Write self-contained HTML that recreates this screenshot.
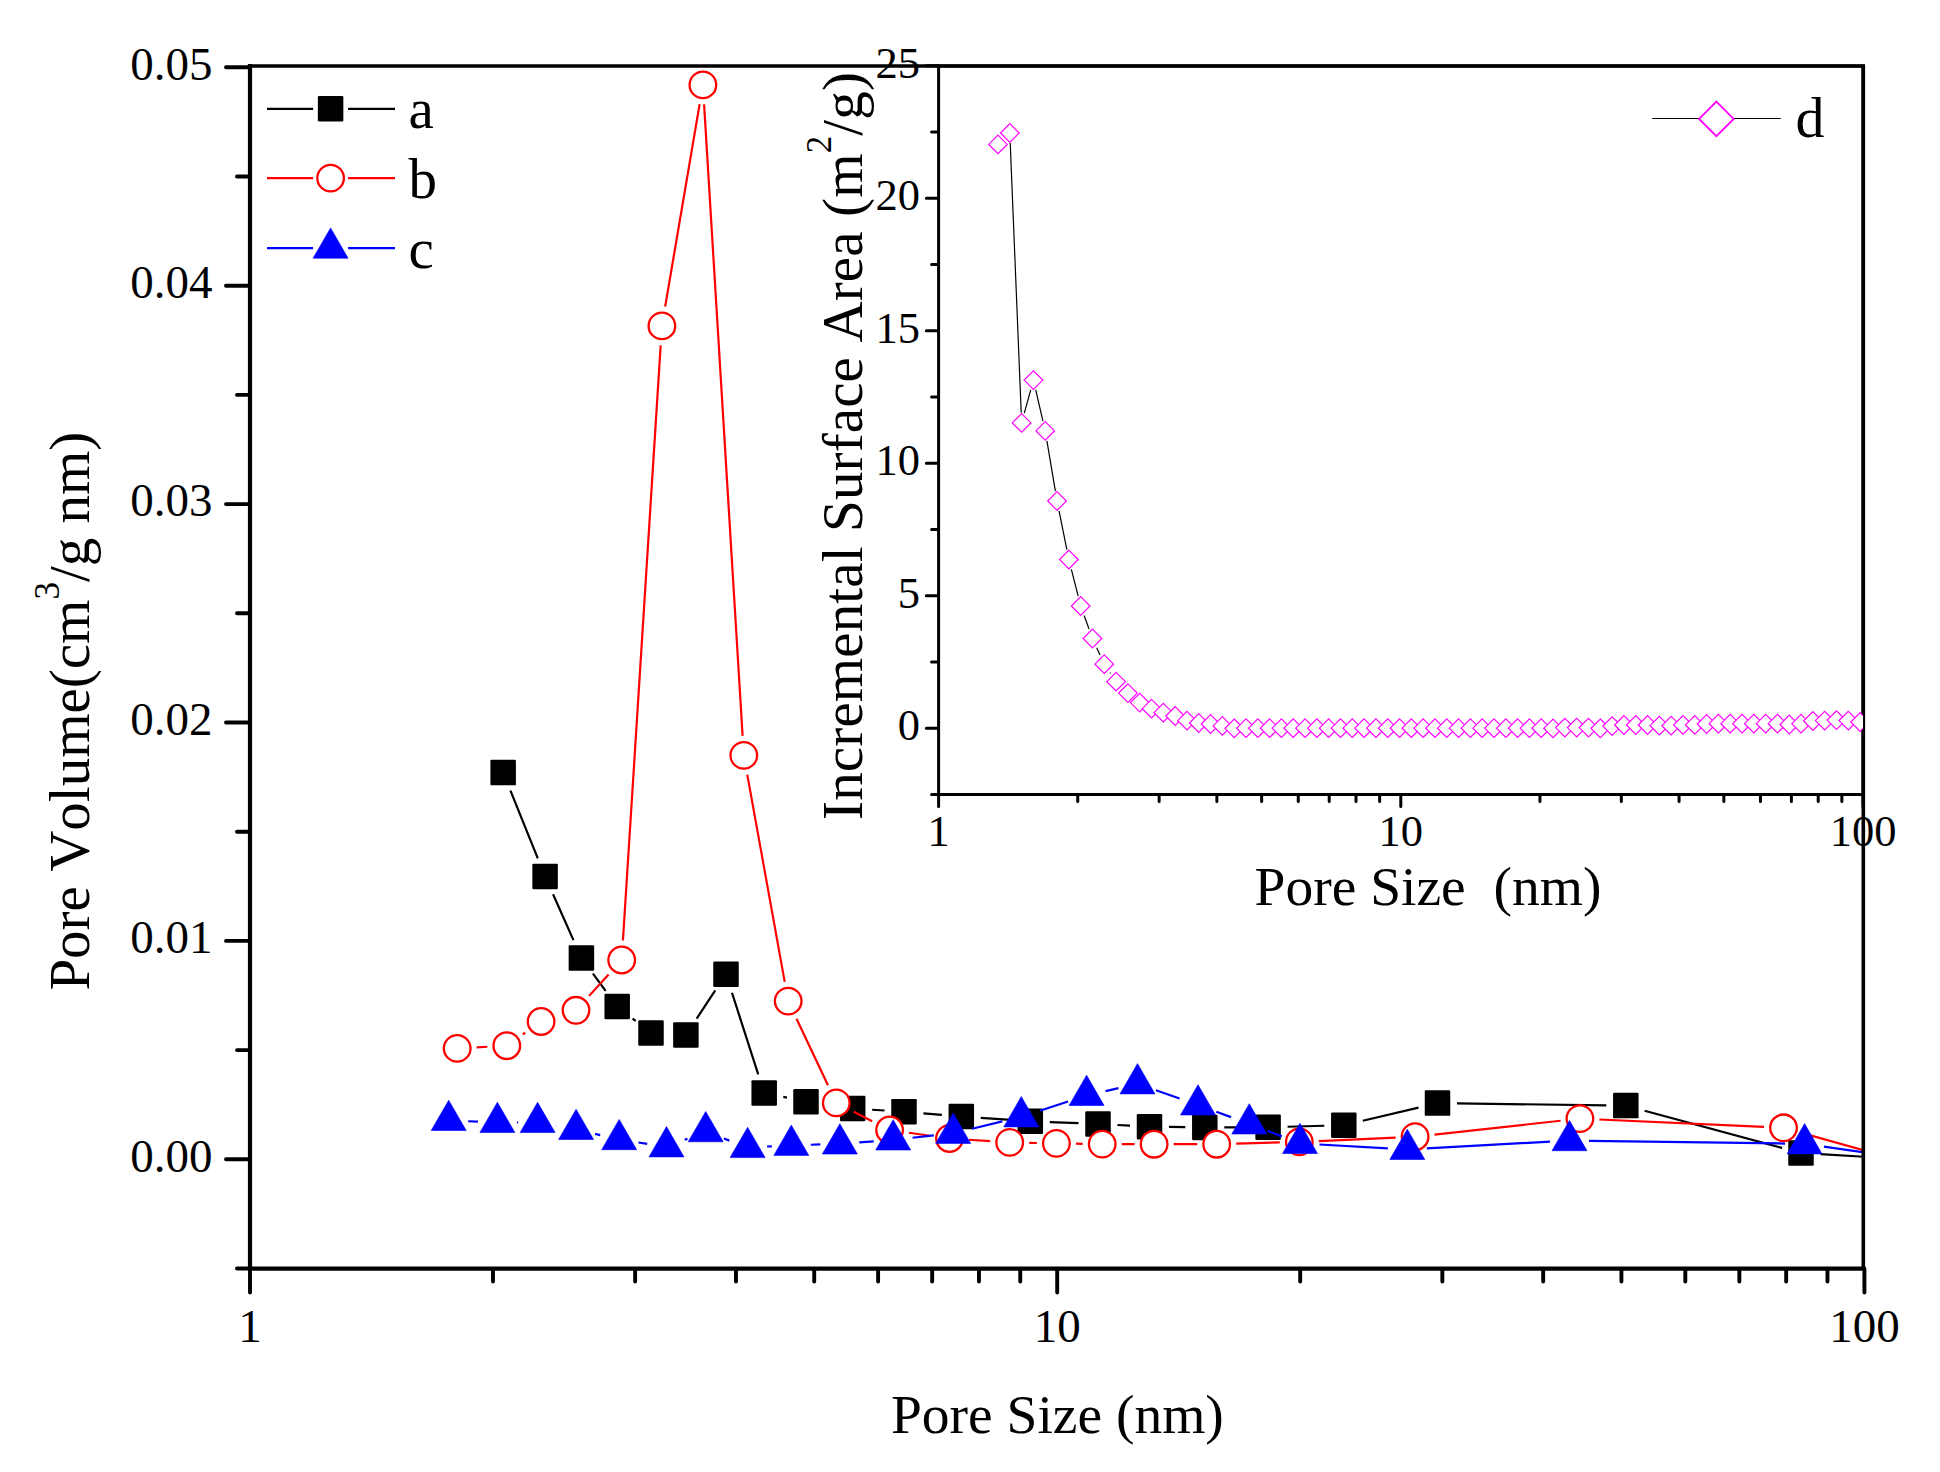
<!DOCTYPE html><html><head><meta charset="utf-8"><title>Pore size distribution</title>
<style>html,body{margin:0;padding:0;background:#fff;}svg{display:block;}text{font-family:"Liberation Serif", "Times New Roman", serif;fill:#000;font-kerning:none;}</style></head><body>
<svg width="1940" height="1472" viewBox="0 0 1940 1472">
<rect width="1940" height="1472" fill="#fff"/>
<defs><clipPath id="mclip"><rect x="250.00" y="66.00" width="1613.30" height="1202.60"/></clipPath>
<clipPath id="iclip"><rect x="938.60" y="66.00" width="924.40" height="728.50"/></clipPath></defs>
<g clip-path="url(#mclip)">
<path d="M510.45 790.68L537.80 858.42M553.04 894.31L573.46 940.09M592.97 973.60L605.63 990.80M632.55 1018.53L635.65 1020.97M696.65 1018.63L715.25 990.47M731.97 992.76L758.23 1074.34M783.28 1096.92L786.92 1097.68M825.30 1104.51L833.40 1105.69M872.16 1109.73L884.54 1110.52M923.43 1113.36L941.87 1114.89M980.75 1117.85L1010.85 1119.95M1049.78 1122.08L1078.52 1123.22M1117.47 1125.02L1130.03 1125.68M1169.00 1126.95L1185.30 1127.15M1224.30 1127.37L1248.60 1127.33M1287.59 1126.76L1324.31 1125.74M1362.78 1120.72L1418.52 1107.58M1457.00 1103.36L1606.30 1105.34M1644.62 1110.69L1782.18 1147.91M1820.47 1154.16L1925.00 1160.40" stroke="#000" stroke-width="2.20" fill="none"/>
<rect x="490.40" y="759.85" width="25.50" height="25.50" rx="1.2" fill="#000"/><rect x="532.35" y="863.75" width="25.50" height="25.50" rx="1.2" fill="#000"/><rect x="568.65" y="945.15" width="25.50" height="25.50" rx="1.2" fill="#000"/><rect x="604.45" y="993.75" width="25.50" height="25.50" rx="1.2" fill="#000"/><rect x="638.25" y="1020.25" width="25.50" height="25.50" rx="1.2" fill="#000"/><rect x="673.15" y="1022.15" width="25.50" height="25.50" rx="1.2" fill="#000"/><rect x="713.25" y="961.45" width="25.50" height="25.50" rx="1.2" fill="#000"/><rect x="751.45" y="1080.15" width="25.50" height="25.50" rx="1.2" fill="#000"/><rect x="793.25" y="1088.95" width="25.50" height="25.50" rx="1.2" fill="#000"/><rect x="839.95" y="1095.75" width="25.50" height="25.50" rx="1.2" fill="#000"/><rect x="891.25" y="1099.00" width="25.50" height="25.50" rx="1.2" fill="#000"/><rect x="948.55" y="1103.75" width="25.50" height="25.50" rx="1.2" fill="#000"/><rect x="1017.55" y="1108.55" width="25.50" height="25.50" rx="1.2" fill="#000"/><rect x="1085.25" y="1111.25" width="25.50" height="25.50" rx="1.2" fill="#000"/><rect x="1136.75" y="1113.95" width="25.50" height="25.50" rx="1.2" fill="#000"/><rect x="1192.05" y="1114.65" width="25.50" height="25.50" rx="1.2" fill="#000"/><rect x="1255.35" y="1114.55" width="25.50" height="25.50" rx="1.2" fill="#000"/><rect x="1331.05" y="1112.45" width="25.50" height="25.50" rx="1.2" fill="#000"/><rect x="1424.75" y="1090.35" width="25.50" height="25.50" rx="1.2" fill="#000"/><rect x="1613.05" y="1092.85" width="25.50" height="25.50" rx="1.2" fill="#000"/><rect x="1788.25" y="1140.25" width="25.50" height="25.50" rx="1.2" fill="#000"/>
<path d="M476.67 1047.34L487.33 1046.76M522.73 1034.46L525.17 1032.74M589.11 995.87L608.59 974.43M622.93 940.54L660.67 345.36M665.17 306.68L699.63 104.12M704.09 104.36L742.61 735.94M747.27 774.59L784.73 981.91M796.53 1018.73L827.97 1085.27M853.68 1111.74L872.22 1121.16M908.91 1132.74L930.19 1135.76M968.96 1139.76L990.24 1141.14M1029.20 1142.82L1036.90 1142.98M1075.90 1143.70L1082.70 1143.80M1121.70 1144.14L1134.60 1144.16M1173.60 1144.20L1197.20 1144.20M1236.19 1143.66L1279.81 1142.44M1318.78 1141.03L1395.62 1137.57M1434.48 1134.57L1560.52 1120.73M1599.38 1119.48L1764.02 1126.92M1802.28 1133.07L1925.00 1167.50" stroke="#f00" stroke-width="2.20" fill="none"/>
<circle cx="457.20" cy="1048.40" r="13.30" fill="#fff" stroke="#f00" stroke-width="2.30"/><circle cx="506.80" cy="1045.70" r="13.30" fill="#fff" stroke="#f00" stroke-width="2.30"/><circle cx="541.10" cy="1021.50" r="13.30" fill="#fff" stroke="#f00" stroke-width="2.30"/><circle cx="576.00" cy="1010.30" r="13.30" fill="#fff" stroke="#f00" stroke-width="2.30"/><circle cx="621.70" cy="960.00" r="13.30" fill="#fff" stroke="#f00" stroke-width="2.30"/><circle cx="661.90" cy="325.90" r="13.30" fill="#fff" stroke="#f00" stroke-width="2.30"/><circle cx="702.90" cy="84.90" r="13.30" fill="#fff" stroke="#f00" stroke-width="2.30"/><circle cx="743.80" cy="755.40" r="13.30" fill="#fff" stroke="#f00" stroke-width="2.30"/><circle cx="788.20" cy="1001.10" r="13.30" fill="#fff" stroke="#f00" stroke-width="2.30"/><circle cx="836.30" cy="1102.90" r="13.30" fill="#fff" stroke="#f00" stroke-width="2.30"/><circle cx="889.60" cy="1130.00" r="13.30" fill="#fff" stroke="#f00" stroke-width="2.30"/><circle cx="949.50" cy="1138.50" r="13.30" fill="#fff" stroke="#f00" stroke-width="2.30"/><circle cx="1009.70" cy="1142.40" r="13.30" fill="#fff" stroke="#f00" stroke-width="2.30"/><circle cx="1056.40" cy="1143.40" r="13.30" fill="#fff" stroke="#f00" stroke-width="2.30"/><circle cx="1102.20" cy="1144.10" r="13.30" fill="#fff" stroke="#f00" stroke-width="2.30"/><circle cx="1154.10" cy="1144.20" r="13.30" fill="#fff" stroke="#f00" stroke-width="2.30"/><circle cx="1216.70" cy="1144.20" r="13.30" fill="#fff" stroke="#f00" stroke-width="2.30"/><circle cx="1299.30" cy="1141.90" r="13.30" fill="#fff" stroke="#f00" stroke-width="2.30"/><circle cx="1415.10" cy="1136.70" r="13.30" fill="#fff" stroke="#f00" stroke-width="2.30"/><circle cx="1579.90" cy="1118.60" r="13.30" fill="#fff" stroke="#f00" stroke-width="2.30"/><circle cx="1783.50" cy="1127.80" r="13.30" fill="#fff" stroke="#f00" stroke-width="2.30"/>
<path d="M468.18 1121.24L477.92 1121.66M516.90 1122.50L518.10 1122.50M556.79 1125.94L556.91 1125.96M595.08 1133.89L600.22 1135.11M638.48 1142.53L647.22 1143.86M684.70 1139.79L687.50 1138.71M723.95 1138.58L729.35 1140.62M767.08 1146.52L771.82 1146.28M810.79 1144.73L820.36 1144.46M859.30 1142.44L873.75 1141.35M912.58 1137.76L933.82 1135.43M972.15 1128.70L1002.35 1121.39M1039.83 1110.72L1068.07 1101.47M1105.61 1091.06L1118.49 1088.13M1155.91 1090.22L1179.59 1098.47M1216.29 1111.67L1231.01 1117.12M1267.50 1130.90L1281.80 1136.40M1319.47 1144.49L1387.83 1148.31M1426.77 1148.34L1550.03 1141.65M1589.00 1140.86L1785.10 1143.53M1823.90 1146.55L1925.00 1161.00" stroke="#00f" stroke-width="2.20" fill="none"/>
<path d="M448.70 1100.19L466.20 1130.50L431.20 1130.50Z" fill="#00f" stroke="#00f" stroke-width="0.6" stroke-linejoin="round"/><path d="M497.40 1102.29L514.90 1132.60L479.90 1132.60Z" fill="#00f" stroke="#00f" stroke-width="0.6" stroke-linejoin="round"/><path d="M537.60 1102.29L555.10 1132.60L520.10 1132.60Z" fill="#00f" stroke="#00f" stroke-width="0.6" stroke-linejoin="round"/><path d="M576.10 1109.19L593.60 1139.50L558.60 1139.50Z" fill="#00f" stroke="#00f" stroke-width="0.6" stroke-linejoin="round"/><path d="M619.20 1119.39L636.70 1149.70L601.70 1149.70Z" fill="#00f" stroke="#00f" stroke-width="0.6" stroke-linejoin="round"/><path d="M666.50 1126.59L684.00 1156.90L649.00 1156.90Z" fill="#00f" stroke="#00f" stroke-width="0.6" stroke-linejoin="round"/><path d="M705.70 1111.49L723.20 1141.80L688.20 1141.80Z" fill="#00f" stroke="#00f" stroke-width="0.6" stroke-linejoin="round"/><path d="M747.60 1127.29L765.10 1157.60L730.10 1157.60Z" fill="#00f" stroke="#00f" stroke-width="0.6" stroke-linejoin="round"/><path d="M791.30 1125.09L808.80 1155.40L773.80 1155.40Z" fill="#00f" stroke="#00f" stroke-width="0.6" stroke-linejoin="round"/><path d="M839.85 1123.69L857.35 1154.00L822.35 1154.00Z" fill="#00f" stroke="#00f" stroke-width="0.6" stroke-linejoin="round"/><path d="M893.20 1119.69L910.70 1150.00L875.70 1150.00Z" fill="#00f" stroke="#00f" stroke-width="0.6" stroke-linejoin="round"/><path d="M953.20 1113.09L970.70 1143.40L935.70 1143.40Z" fill="#00f" stroke="#00f" stroke-width="0.6" stroke-linejoin="round"/><path d="M1021.30 1096.59L1038.80 1126.90L1003.80 1126.90Z" fill="#00f" stroke="#00f" stroke-width="0.6" stroke-linejoin="round"/><path d="M1086.60 1075.19L1104.10 1105.50L1069.10 1105.50Z" fill="#00f" stroke="#00f" stroke-width="0.6" stroke-linejoin="round"/><path d="M1137.50 1063.59L1155.00 1093.90L1120.00 1093.90Z" fill="#00f" stroke="#00f" stroke-width="0.6" stroke-linejoin="round"/><path d="M1198.00 1084.69L1215.50 1115.00L1180.50 1115.00Z" fill="#00f" stroke="#00f" stroke-width="0.6" stroke-linejoin="round"/><path d="M1249.30 1103.69L1266.80 1134.00L1231.80 1134.00Z" fill="#00f" stroke="#00f" stroke-width="0.6" stroke-linejoin="round"/><path d="M1300.00 1123.19L1317.50 1153.50L1282.50 1153.50Z" fill="#00f" stroke="#00f" stroke-width="0.6" stroke-linejoin="round"/><path d="M1407.30 1129.19L1424.80 1159.50L1389.80 1159.50Z" fill="#00f" stroke="#00f" stroke-width="0.6" stroke-linejoin="round"/><path d="M1569.50 1120.39L1587.00 1150.70L1552.00 1150.70Z" fill="#00f" stroke="#00f" stroke-width="0.6" stroke-linejoin="round"/><path d="M1804.60 1123.59L1822.10 1153.90L1787.10 1153.90Z" fill="#00f" stroke="#00f" stroke-width="0.6" stroke-linejoin="round"/>
</g>
<path d="M267.00 108.80H313.10M348.10 108.80H395.00" stroke="#000" stroke-width="2.2"/>
<rect x="317.85" y="96.05" width="25.50" height="25.50" rx="1.2" fill="#000"/>
<text x="408.50" y="128.30" font-size="57.00" text-anchor="start">a</text>
<path d="M267.00 178.10H313.10M348.10 178.10H395.00" stroke="#f00" stroke-width="2.2"/>
<circle cx="330.60" cy="178.10" r="13.30" fill="#fff" stroke="#f00" stroke-width="2.30"/>
<text x="408.50" y="197.60" font-size="57.00" text-anchor="start">b</text>
<path d="M267.00 248.10H313.10M348.10 248.10H395.00" stroke="#00f" stroke-width="2.2"/>
<path d="M330.60 227.89L348.10 258.20L313.10 258.20Z" fill="#00f" stroke="#00f" stroke-width="0.6" stroke-linejoin="round"/>
<text x="408.50" y="267.60" font-size="57.00" text-anchor="start">c</text>
<path d="M226.00 1159.30H250.00M226.00 940.90H250.00M226.00 722.50H250.00M226.00 504.10H250.00M226.00 285.70H250.00M226.00 67.30H250.00M237.00 1268.50H250.00M237.00 1050.10H250.00M237.00 831.70H250.00M237.00 613.30H250.00M237.00 394.90H250.00M237.00 176.50H250.00M250.00 1268.60V1292.60M1057.20 1268.60V1292.60M1864.40 1268.60V1292.60M492.99 1268.60V1281.60M635.13 1268.60V1281.60M735.98 1268.60V1281.60M814.21 1268.60V1281.60M878.12 1268.60V1281.60M932.16 1268.60V1281.60M978.97 1268.60V1281.60M1020.26 1268.60V1281.60M1300.19 1268.60V1281.60M1442.33 1268.60V1281.60M1543.18 1268.60V1281.60M1621.41 1268.60V1281.60M1685.32 1268.60V1281.60M1739.36 1268.60V1281.60M1786.17 1268.60V1281.60M1827.46 1268.60V1281.60" stroke="#000" stroke-width="3.90" stroke-linecap="round" fill="none"/>
<path d="M250.00 66.00H1863.30V1268.60" fill="none" stroke="#000" stroke-width="3.6" stroke-linejoin="miter"/>
<path d="M250.00 66.00V1268.60H1863.30" fill="none" stroke="#000" stroke-width="4.2" stroke-linejoin="miter" stroke-linecap="square"/>
<text x="212.50" y="1171.60" font-size="47.00" text-anchor="end">0.00</text>
<text x="212.50" y="953.20" font-size="47.00" text-anchor="end">0.01</text>
<text x="212.50" y="734.80" font-size="47.00" text-anchor="end">0.02</text>
<text x="212.50" y="516.40" font-size="47.00" text-anchor="end">0.03</text>
<text x="212.50" y="298.00" font-size="47.00" text-anchor="end">0.04</text>
<text x="212.50" y="79.60" font-size="47.00" text-anchor="end">0.05</text>
<text x="250.00" y="1342.00" font-size="47.00" text-anchor="middle">1</text>
<text x="1057.20" y="1342.00" font-size="47.00" text-anchor="middle">10</text>
<text x="1864.40" y="1342.00" font-size="47.00" text-anchor="middle">100</text>
<text x="1057.40" y="1432.70" font-size="55.50" text-anchor="middle">Pore Size (nm)</text>
<text transform="translate(88.70,990.60) rotate(-90)" x="0" y="0" font-size="57.00" letter-spacing="0.00">Pore Volume(cm<tspan font-size="35" dy="-30.2">3</tspan><tspan dy="30.2">/g nm)</tspan></text>
<path d="M926.30 728.30H938.60M926.30 595.80H938.60M926.30 463.30H938.60M926.30 330.80H938.60M926.30 198.30H938.60M926.30 65.80H938.60M931.60 794.55H938.60M931.60 662.05H938.60M931.60 529.55H938.60M931.60 397.05H938.60M931.60 264.55H938.60M931.60 132.05H938.60M938.60 794.50V806.50M1400.80 794.50V806.50M1863.00 794.50V806.50M1077.74 794.50V801.50M1159.13 794.50V801.50M1216.87 794.50V801.50M1261.66 794.50V801.50M1298.26 794.50V801.50M1329.20 794.50V801.50M1356.01 794.50V801.50M1379.65 794.50V801.50M1539.94 794.50V801.50M1621.33 794.50V801.50M1679.07 794.50V801.50M1723.86 794.50V801.50M1760.46 794.50V801.50M1791.40 794.50V801.50M1818.21 794.50V801.50M1841.85 794.50V801.50" stroke="#000" stroke-width="3.00" stroke-linecap="round" fill="none"/>
<rect x="938.60" y="66.00" width="924.40" height="728.50" fill="none" stroke="#000" stroke-width="3.00"/>
<g clip-path="url(#iclip)">
<path d="M1010.22 143.09L1021.21 412.81M1024.31 413.16L1030.74 389.84M1035.72 389.94L1042.95 421.06M1046.92 440.86L1055.37 491.04M1059.05 510.90L1066.86 549.60M1071.35 569.29L1078.18 596.21M1084.12 615.49L1089.03 629.01M1096.70 647.68L1100.07 655.02M1109.94 672.57L1110.45 673.33" stroke="#000" stroke-width="1.20" fill="none"/>
<path d="M998.00 135.10L1007.30 144.40L998.00 153.70L988.70 144.40Z" fill="#fff" stroke="#f0f" stroke-width="1.20"/><path d="M1009.81 123.70L1019.11 133.00L1009.81 142.30L1000.51 133.00Z" fill="#fff" stroke="#f0f" stroke-width="1.20"/><path d="M1021.62 413.60L1030.92 422.90L1021.62 432.20L1012.32 422.90Z" fill="#fff" stroke="#f0f" stroke-width="1.20"/><path d="M1033.43 370.80L1042.73 380.10L1033.43 389.40L1024.13 380.10Z" fill="#fff" stroke="#f0f" stroke-width="1.20"/><path d="M1045.24 421.60L1054.54 430.90L1045.24 440.20L1035.94 430.90Z" fill="#fff" stroke="#f0f" stroke-width="1.20"/><path d="M1057.05 491.70L1066.35 501.00L1057.05 510.30L1047.75 501.00Z" fill="#fff" stroke="#f0f" stroke-width="1.20"/><path d="M1068.86 550.20L1078.16 559.50L1068.86 568.80L1059.56 559.50Z" fill="#fff" stroke="#f0f" stroke-width="1.20"/><path d="M1080.67 596.70L1089.97 606.00L1080.67 615.30L1071.37 606.00Z" fill="#fff" stroke="#f0f" stroke-width="1.20"/><path d="M1092.48 629.20L1101.78 638.50L1092.48 647.80L1083.18 638.50Z" fill="#fff" stroke="#f0f" stroke-width="1.20"/><path d="M1104.29 654.90L1113.59 664.20L1104.29 673.50L1094.99 664.20Z" fill="#fff" stroke="#f0f" stroke-width="1.20"/><path d="M1116.10 672.40L1125.40 681.70L1116.10 691.00L1106.80 681.70Z" fill="#fff" stroke="#f0f" stroke-width="1.20"/><path d="M1127.91 683.80L1137.21 693.10L1127.91 702.40L1118.61 693.10Z" fill="#fff" stroke="#f0f" stroke-width="1.20"/><path d="M1139.72 693.30L1149.02 702.60L1139.72 711.90L1130.42 702.60Z" fill="#fff" stroke="#f0f" stroke-width="1.20"/><path d="M1151.53 699.40L1160.83 708.70L1151.53 718.00L1142.23 708.70Z" fill="#fff" stroke="#f0f" stroke-width="1.20"/><path d="M1163.34 703.40L1172.64 712.70L1163.34 722.00L1154.04 712.70Z" fill="#fff" stroke="#f0f" stroke-width="1.20"/><path d="M1175.15 706.70L1184.45 716.00L1175.15 725.30L1165.85 716.00Z" fill="#fff" stroke="#f0f" stroke-width="1.20"/><path d="M1186.96 711.40L1196.26 720.70L1186.96 730.00L1177.66 720.70Z" fill="#fff" stroke="#f0f" stroke-width="1.20"/><path d="M1198.77 713.70L1208.07 723.00L1198.77 732.30L1189.47 723.00Z" fill="#fff" stroke="#f0f" stroke-width="1.20"/><path d="M1210.58 714.70L1219.88 724.00L1210.58 733.30L1201.28 724.00Z" fill="#fff" stroke="#f0f" stroke-width="1.20"/><path d="M1222.39 716.60L1231.69 725.90L1222.39 735.20L1213.09 725.90Z" fill="#fff" stroke="#f0f" stroke-width="1.20"/><path d="M1234.20 719.00L1243.50 728.30L1234.20 737.60L1224.90 728.30Z" fill="#fff" stroke="#f0f" stroke-width="1.20"/><path d="M1246.01 718.90L1255.31 728.20L1246.01 737.50L1236.71 728.20Z" fill="#fff" stroke="#f0f" stroke-width="1.20"/><path d="M1257.82 718.90L1267.12 728.20L1257.82 737.50L1248.52 728.20Z" fill="#fff" stroke="#f0f" stroke-width="1.20"/><path d="M1269.63 718.90L1278.93 728.20L1269.63 737.50L1260.33 728.20Z" fill="#fff" stroke="#f0f" stroke-width="1.20"/><path d="M1281.44 718.90L1290.74 728.20L1281.44 737.50L1272.14 728.20Z" fill="#fff" stroke="#f0f" stroke-width="1.20"/><path d="M1293.25 718.90L1302.55 728.20L1293.25 737.50L1283.95 728.20Z" fill="#fff" stroke="#f0f" stroke-width="1.20"/><path d="M1305.06 718.90L1314.36 728.20L1305.06 737.50L1295.76 728.20Z" fill="#fff" stroke="#f0f" stroke-width="1.20"/><path d="M1316.87 718.90L1326.17 728.20L1316.87 737.50L1307.57 728.20Z" fill="#fff" stroke="#f0f" stroke-width="1.20"/><path d="M1328.68 718.90L1337.98 728.20L1328.68 737.50L1319.38 728.20Z" fill="#fff" stroke="#f0f" stroke-width="1.20"/><path d="M1340.49 718.90L1349.79 728.20L1340.49 737.50L1331.19 728.20Z" fill="#fff" stroke="#f0f" stroke-width="1.20"/><path d="M1352.30 718.90L1361.60 728.20L1352.30 737.50L1343.00 728.20Z" fill="#fff" stroke="#f0f" stroke-width="1.20"/><path d="M1364.11 718.90L1373.41 728.20L1364.11 737.50L1354.81 728.20Z" fill="#fff" stroke="#f0f" stroke-width="1.20"/><path d="M1375.92 718.90L1385.22 728.20L1375.92 737.50L1366.62 728.20Z" fill="#fff" stroke="#f0f" stroke-width="1.20"/><path d="M1387.73 718.90L1397.03 728.20L1387.73 737.50L1378.43 728.20Z" fill="#fff" stroke="#f0f" stroke-width="1.20"/><path d="M1399.54 718.90L1408.84 728.20L1399.54 737.50L1390.24 728.20Z" fill="#fff" stroke="#f0f" stroke-width="1.20"/><path d="M1411.35 718.90L1420.65 728.20L1411.35 737.50L1402.05 728.20Z" fill="#fff" stroke="#f0f" stroke-width="1.20"/><path d="M1423.16 718.90L1432.46 728.20L1423.16 737.50L1413.86 728.20Z" fill="#fff" stroke="#f0f" stroke-width="1.20"/><path d="M1434.97 718.90L1444.27 728.20L1434.97 737.50L1425.67 728.20Z" fill="#fff" stroke="#f0f" stroke-width="1.20"/><path d="M1446.78 718.90L1456.08 728.20L1446.78 737.50L1437.48 728.20Z" fill="#fff" stroke="#f0f" stroke-width="1.20"/><path d="M1458.59 718.90L1467.89 728.20L1458.59 737.50L1449.29 728.20Z" fill="#fff" stroke="#f0f" stroke-width="1.20"/><path d="M1470.40 718.90L1479.70 728.20L1470.40 737.50L1461.10 728.20Z" fill="#fff" stroke="#f0f" stroke-width="1.20"/><path d="M1482.21 718.90L1491.51 728.20L1482.21 737.50L1472.91 728.20Z" fill="#fff" stroke="#f0f" stroke-width="1.20"/><path d="M1494.02 718.90L1503.32 728.20L1494.02 737.50L1484.72 728.20Z" fill="#fff" stroke="#f0f" stroke-width="1.20"/><path d="M1505.83 718.90L1515.13 728.20L1505.83 737.50L1496.53 728.20Z" fill="#fff" stroke="#f0f" stroke-width="1.20"/><path d="M1517.64 718.90L1526.94 728.20L1517.64 737.50L1508.34 728.20Z" fill="#fff" stroke="#f0f" stroke-width="1.20"/><path d="M1529.45 718.90L1538.75 728.20L1529.45 737.50L1520.15 728.20Z" fill="#fff" stroke="#f0f" stroke-width="1.20"/><path d="M1541.26 718.90L1550.56 728.20L1541.26 737.50L1531.96 728.20Z" fill="#fff" stroke="#f0f" stroke-width="1.20"/><path d="M1553.07 719.10L1562.37 728.40L1553.07 737.70L1543.77 728.40Z" fill="#fff" stroke="#f0f" stroke-width="1.20"/><path d="M1564.88 718.30L1574.18 727.60L1564.88 736.90L1555.58 727.60Z" fill="#fff" stroke="#f0f" stroke-width="1.20"/><path d="M1576.69 718.30L1585.99 727.60L1576.69 736.90L1567.39 727.60Z" fill="#fff" stroke="#f0f" stroke-width="1.20"/><path d="M1588.50 718.30L1597.80 727.60L1588.50 736.90L1579.20 727.60Z" fill="#fff" stroke="#f0f" stroke-width="1.20"/><path d="M1600.31 719.00L1609.61 728.30L1600.31 737.60L1591.01 728.30Z" fill="#fff" stroke="#f0f" stroke-width="1.20"/><path d="M1612.12 716.80L1621.42 726.10L1612.12 735.40L1602.82 726.10Z" fill="#fff" stroke="#f0f" stroke-width="1.20"/><path d="M1623.93 715.70L1633.23 725.00L1623.93 734.30L1614.63 725.00Z" fill="#fff" stroke="#f0f" stroke-width="1.20"/><path d="M1635.74 715.70L1645.04 725.00L1635.74 734.30L1626.44 725.00Z" fill="#fff" stroke="#f0f" stroke-width="1.20"/><path d="M1647.55 715.70L1656.85 725.00L1647.55 734.30L1638.25 725.00Z" fill="#fff" stroke="#f0f" stroke-width="1.20"/><path d="M1659.36 716.40L1668.66 725.70L1659.36 735.00L1650.06 725.70Z" fill="#fff" stroke="#f0f" stroke-width="1.20"/><path d="M1671.17 716.40L1680.47 725.70L1671.17 735.00L1661.87 725.70Z" fill="#fff" stroke="#f0f" stroke-width="1.20"/><path d="M1682.98 715.60L1692.28 724.90L1682.98 734.20L1673.68 724.90Z" fill="#fff" stroke="#f0f" stroke-width="1.20"/><path d="M1694.79 715.60L1704.09 724.90L1694.79 734.20L1685.49 724.90Z" fill="#fff" stroke="#f0f" stroke-width="1.20"/><path d="M1706.60 714.70L1715.90 724.00L1706.60 733.30L1697.30 724.00Z" fill="#fff" stroke="#f0f" stroke-width="1.20"/><path d="M1718.41 714.40L1727.71 723.70L1718.41 733.00L1709.11 723.70Z" fill="#fff" stroke="#f0f" stroke-width="1.20"/><path d="M1730.22 714.40L1739.52 723.70L1730.22 733.00L1720.92 723.70Z" fill="#fff" stroke="#f0f" stroke-width="1.20"/><path d="M1742.03 714.40L1751.33 723.70L1742.03 733.00L1732.73 723.70Z" fill="#fff" stroke="#f0f" stroke-width="1.20"/><path d="M1753.84 714.40L1763.14 723.70L1753.84 733.00L1744.54 723.70Z" fill="#fff" stroke="#f0f" stroke-width="1.20"/><path d="M1765.65 714.40L1774.95 723.70L1765.65 733.00L1756.35 723.70Z" fill="#fff" stroke="#f0f" stroke-width="1.20"/><path d="M1777.46 714.40L1786.76 723.70L1777.46 733.00L1768.16 723.70Z" fill="#fff" stroke="#f0f" stroke-width="1.20"/><path d="M1789.27 715.20L1798.57 724.50L1789.27 733.80L1779.97 724.50Z" fill="#fff" stroke="#f0f" stroke-width="1.20"/><path d="M1801.08 714.40L1810.38 723.70L1801.08 733.00L1791.78 723.70Z" fill="#fff" stroke="#f0f" stroke-width="1.20"/><path d="M1812.89 711.70L1822.19 721.00L1812.89 730.30L1803.59 721.00Z" fill="#fff" stroke="#f0f" stroke-width="1.20"/><path d="M1824.70 711.30L1834.00 720.60L1824.70 729.90L1815.40 720.60Z" fill="#fff" stroke="#f0f" stroke-width="1.20"/><path d="M1836.51 710.80L1845.81 720.10L1836.51 729.40L1827.21 720.10Z" fill="#fff" stroke="#f0f" stroke-width="1.20"/><path d="M1848.32 711.30L1857.62 720.60L1848.32 729.90L1839.02 720.60Z" fill="#fff" stroke="#f0f" stroke-width="1.20"/><path d="M1860.13 712.70L1869.43 722.00L1860.13 731.30L1850.83 722.00Z" fill="#fff" stroke="#f0f" stroke-width="1.20"/>
</g>
<text x="920.00" y="740.30" font-size="44.50" text-anchor="end">0</text>
<text x="920.00" y="607.80" font-size="44.50" text-anchor="end">5</text>
<text x="920.00" y="475.30" font-size="44.50" text-anchor="end">10</text>
<text x="920.00" y="342.80" font-size="44.50" text-anchor="end">15</text>
<text x="920.00" y="210.30" font-size="44.50" text-anchor="end">20</text>
<text x="920.00" y="77.80" font-size="44.50" text-anchor="end">25</text>
<text x="938.60" y="845.50" font-size="44.50" text-anchor="middle">1</text>
<text x="1400.80" y="845.50" font-size="44.50" text-anchor="middle">10</text>
<text x="1863.00" y="845.50" font-size="44.50" text-anchor="middle">100</text>
<text x="1428.00" y="905.00" font-size="55.50" text-anchor="middle">Pore Size&#160;&#160;(nm)</text>
<text transform="translate(862.00,819.90) rotate(-90)" x="0" y="0" font-size="57.00" letter-spacing="0.13">Incremental Surface Area (m<tspan font-size="35" dy="-30.7">2</tspan><tspan dy="30.7">/g)</tspan></text>
<path d="M1652.2 118.5H1780.7" stroke="#000" stroke-width="1.2"/>
<path d="M1716.40 101.60L1733.70 118.90L1716.40 136.20L1699.10 118.90Z" fill="#fff" stroke="#f0f" stroke-width="1.80"/>
<text x="1795.50" y="137.30" font-size="58.00" text-anchor="start">d</text>
</svg></body></html>
